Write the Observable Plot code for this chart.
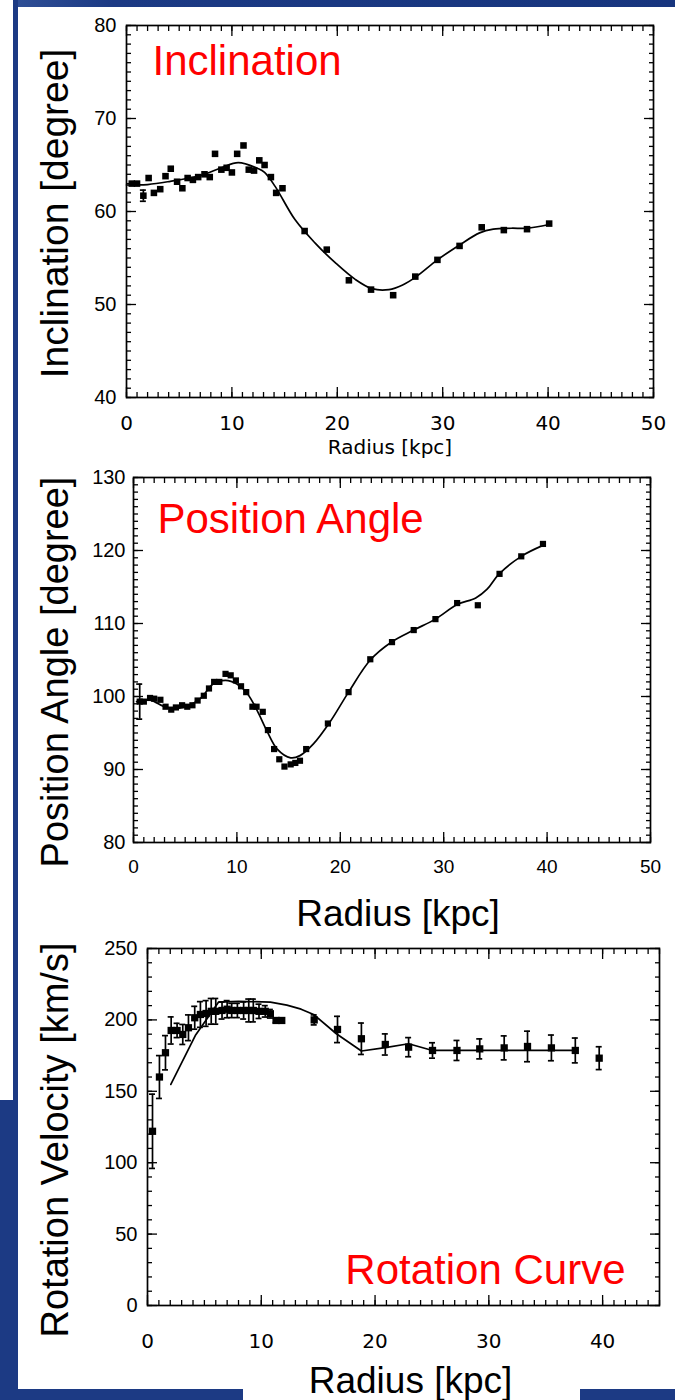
<!DOCTYPE html>
<html>
<head>
<meta charset="utf-8">
<script src="https://cdn.jsdelivr.net/npm/d3@7"></script>
<script src="https://cdn.jsdelivr.net/npm/@observablehq/plot@0.6"></script>
<style>
html, body { margin: 0; padding: 0; background: #fff; }
#page { position: relative; width: 675px; height: 1400px; overflow: hidden; background: #fff; font-family: "Liberation Sans", Arial, sans-serif; }
.panel { position: absolute; left: 0; }
.deco { position: absolute; background: #1c3a84; z-index: 5; }
</style>
</head>
<body>
<div id="page">
  <div id="p1" class="panel" style="top:0px"></div>
  <div id="p2" class="panel" style="top:460px"></div>
  <div id="p3" class="panel" style="top:940px"></div>
  <div class="deco" style="left:13px;top:0;width:662px;height:7px;background:linear-gradient(90deg,#2f4f96,#1c3a84 15%,#17357e)"></div>
  <div class="deco" style="left:13px;top:0;width:5px;height:1100px"></div>
  <div class="deco" style="left:0;top:1100px;width:18px;height:300px"></div>
  <div class="deco" style="left:0;top:1389px;width:243px;height:11px"></div>
  <div class="deco" style="left:580px;top:1389px;width:95px;height:11px"></div>
</div>
<script>
// ---------- Inclination ----------
const incR = [0.5, 1.0, 1.6, 2.1, 2.6, 3.2, 3.7, 4.2, 4.8, 5.3, 5.8, 6.3, 6.8, 7.4, 7.9, 8.4, 9.0, 9.5, 10.0, 10.5, 11.1, 11.6, 12.1, 12.6, 13.1, 13.7, 14.2, 14.8, 16.9, 19.0, 21.1, 23.2, 25.3, 27.4, 29.5, 31.6, 33.7, 35.8, 38.0, 40.1];
const incV = [63.0, 63.0, 61.7, 63.6, 62.0, 62.4, 63.8, 64.6, 63.2, 62.5, 63.6, 63.4, 63.7, 64.0, 63.7, 66.2, 64.5, 64.7, 64.2, 66.2, 67.1, 64.5, 64.4, 65.5, 65.0, 63.7, 62.0, 62.5, 57.9, 55.9, 52.6, 51.6, 51.0, 53.0, 54.8, 56.3, 58.3, 58.0, 58.1, 58.7];
const incE = [0, 0, 0.6, 0, 0, 0, 0, 0, 0, 0, 0, 0, 0, 0, 0, 0, 0, 0, 0, 0, 0, 0, 0, 0, 0, 0, 0, 0, 0, 0, 0, 0, 0, 0, 0, 0, 0, 0, 0, 0];
const incFitR = [0, 1.0, 2.0, 3.9, 7.1, 9.0, 10.6, 12.5, 13.1, 14.1, 16.0, 17.9, 19.8, 21.7, 23.3, 24.9, 26.2, 27.5, 29.5, 31.6, 33.5, 34.8, 36.5, 38.0, 40.1];
const incFitV = [62.85, 62.85, 62.9, 63.2, 63.9, 64.7, 65.25, 64.6, 64.2, 62.7, 59.1, 56.6, 54.5, 52.7, 51.7, 51.6, 52.1, 53.0, 54.8, 56.4, 57.7, 58.1, 58.2, 58.2, 58.6];
const incXTicks = [0, 10, 20, 30, 40, 50];
const incYTicks = [40, 50, 60, 70, 80];

// ---------- Position angle ----------
const paR = [0.6, 1.0, 1.6, 2.0, 2.6, 3.1, 3.65, 4.1, 4.7, 5.2, 5.7, 6.2, 6.8, 7.3, 7.8, 8.3, 8.9, 9.4, 9.9, 10.4, 10.9, 11.5, 11.9, 12.5, 13.0, 13.6, 14.1, 14.6, 15.2, 15.65, 16.1, 16.7, 18.8, 20.8, 22.9, 25.0, 27.1, 29.2, 31.3, 33.3, 35.4, 37.5, 39.6];
const paV = [99.3, 99.3, 99.8, 99.7, 99.55, 98.6, 98.2, 98.5, 98.8, 98.6, 98.8, 99.45, 100.1, 101.1, 102.0, 102.0, 103.1, 102.9, 102.2, 101.4, 100.6, 98.6, 98.6, 97.9, 95.4, 92.8, 91.4, 90.4, 90.7, 90.9, 91.2, 92.8, 96.3, 100.6, 105.1, 107.45, 109.1, 110.6, 112.8, 112.5, 116.8, 119.2, 120.9];
const paE = [2.4, 0, 0, 0, 0, 0, 0, 0, 0, 0, 0, 0, 0, 0, 0, 0, 0, 0, 0, 0, 0, 0, 0, 0, 0, 0, 0, 0, 0, 0, 0, 0, 0, 0, 0, 0, 0, 0, 0, 0, 0, 0, 0];
const paFitR = [0.3, 1.6, 3.2, 4.8, 6.45, 7.7, 8.9, 10.0, 11.0, 11.95, 12.9, 13.9, 15.2, 16.1, 17.4, 19.0, 20.8, 22.9, 25.0, 27.1, 29.2, 31.3, 33.1, 34.2, 35.3, 37.5, 39.6];
const paFitV = [99.3, 99.5, 98.5, 98.5, 99.7, 101.7, 102.2, 101.7, 100.4, 98.1, 95.3, 92.8, 91.6, 91.9, 93.5, 96.5, 100.6, 105.0, 107.5, 109.1, 110.6, 112.6, 113.5, 114.7, 116.7, 119.2, 120.7];
const paXTicks = [0, 10, 20, 30, 40, 50];
const paYTicks = [80, 90, 100, 110, 120, 130];

// ---------- Rotation curve ----------
const rcR = [0.44, 1.05, 1.58, 2.08, 2.6, 3.1, 3.6, 4.15, 4.65, 5.15, 5.6, 6.0, 6.55, 7.0, 7.4, 7.9, 8.45, 8.9, 9.3, 9.8, 10.35, 10.8, 11.3, 11.8, 14.65, 16.7, 18.8, 20.9, 22.95, 25.05, 27.2, 29.2, 31.35, 33.4, 35.5, 37.6, 39.7];
const rcV = [122, 160, 177, 192.6, 192.6, 189.8, 194.5, 201.5, 203.8, 204.5, 206, 206, 206.6, 207.5, 206.6, 206.6, 206.6, 206.6, 206.6, 206, 206, 204.3, 199.6, 199.6, 200, 193.3, 186.8, 182.8, 180.9, 178.6, 178.6, 179.7, 180.4, 181.4, 180.4, 178.6, 173.2];
const rcE = [26, 15, 12, 9.5, 5, 7, 9, 8, 9, 9, 9, 9, 6, 6, 5, 5, 6, 8, 8, 5, 4, 3, 1.5, 1.5, 3.5, 9.2, 11, 7.4, 6.7, 5.4, 7, 7, 8.4, 10.7, 9, 8.7, 8];
const rcFitR = [2.05, 4.2, 6.25, 8.0, 10.8, 12.25, 13.5, 14.6, 16.6, 18.8, 20.9, 22.95, 25.05, 27.2, 37.6];
const rcFitV = [154.8, 189, 212.5, 213, 212.5, 210.3, 207.5, 203.8, 190.3, 178.2, 180.6, 183.3, 178.6, 178.6, 178.6];
const rcXTicks = [0, 10, 20, 30, 40];
const rcYTicks = [0, 50, 100, 150, 200, 250];

const rows = (R, V, E) => R.map((r, i) => ({r, v: V[i], e: E ? E[i] : 0}));
const range = (a, b, s) => d3.range(a, b + s / 2, s);
const noText = () => "";

function box(o) {
  const sw = 1.3;
  return [
    Plot.axisX({ticks: o.xMinor, anchor: "bottom", tickSize: -5, tickFormat: noText, label: null, strokeWidth: sw}),
    Plot.axisX({ticks: o.xMinor, anchor: "top", tickSize: -5, tickFormat: noText, label: null, strokeWidth: sw}),
    Plot.axisX({ticks: o.xTicks, anchor: "top", tickSize: -10, tickFormat: noText, label: null, strokeWidth: sw}),
    Plot.axisX({ticks: o.xTicks, anchor: "bottom", tickSize: -10, tickPadding: o.xPad, tickFormat: d => String(d), label: null, strokeWidth: sw, fontSize: o.xFontSize, fontFamily: o.xFont, fill: "#000"}),
    Plot.axisY({ticks: o.yMinor, anchor: "left", tickSize: -5, tickFormat: noText, label: null, strokeWidth: sw}),
    Plot.axisY({ticks: o.yMinor, anchor: "right", tickSize: -5, tickFormat: noText, label: null, strokeWidth: sw}),
    Plot.axisY({ticks: o.yTicks, anchor: "right", tickSize: -10, tickFormat: noText, label: null, strokeWidth: sw}),
    Plot.axisY({ticks: o.yTicks, anchor: "left", tickSize: -10, tickPadding: o.yPad, tickFormat: d => String(d), label: null, strokeWidth: sw, fontSize: 20, fontFamily: "Liberation Sans", fill: "#000"}),
    Plot.frame({stroke: "#000", strokeWidth: 1.7})
  ];
}

function errorMarks(data, capHalf) {
  const d = data.filter(p => p.e > 0).map(p => ({r: p.r, lo: p.v - p.e, hi: p.v + p.e}));
  return [
    Plot.ruleX(d, {x: "r", y1: "lo", y2: "hi", stroke: "#000", strokeWidth: 1.7}),
    Plot.ruleY(d, {y: "lo", x1: "r", x2: "r", insetLeft: -capHalf, insetRight: -capHalf, stroke: "#000", strokeWidth: 1.7}),
    Plot.ruleY(d, {y: "hi", x1: "r", x2: "r", insetLeft: -capHalf, insetRight: -capHalf, stroke: "#000", strokeWidth: 1.7})
  ];
}

const HERSHEY = "DejaVu Sans";
const ARIAL = "Liberation Sans";
const svgStyle = {background: "transparent", overflow: "visible"};

// Panel 1
const incData = rows(incR, incV, incE);
const p1 = Plot.plot({
  width: 675, height: 460,
  marginTop: 25, marginBottom: 63, marginLeft: 126, marginRight: 22,
  style: svgStyle,
  x: {domain: [0, 50], label: null},
  y: {domain: [40, 80], label: null},
  marks: [
    ...box({xTicks: incXTicks, xMinor: range(0, 50, 1), yTicks: incYTicks, yMinor: range(40, 80, 1), xPad: 28, yPad: 20, xFontSize: 20, xFont: HERSHEY}),
    Plot.line(rows(incFitR, incFitV), {x: "r", y: "v", curve: "catmull-rom", stroke: "#000", strokeWidth: 1.7}),
    ...errorMarks(incData, 3),
    Plot.dot(incData, {x: "r", y: "v", symbol: "square", r: 3.7, fill: "#000", stroke: "none"}),
    Plot.text(["Inclination [degree]"], {text: d => d, frameAnchor: "left", textAnchor: "middle", lineAnchor: "middle", rotate: -90, dx: -71, dy: 2, fontSize: 39, fontFamily: ARIAL, fill: "#000"}),
    Plot.text(["Inclination"], {text: d => d, frameAnchor: "top-left", textAnchor: "start", lineAnchor: "top", dx: 26, dy: 20, fontSize: 42, fontFamily: ARIAL, fill: "#ff0000"}),
    Plot.text(["Radius [kpc]"], {text: d => d, frameAnchor: "bottom", lineAnchor: "middle", dy: 50, fontSize: 20, fontFamily: HERSHEY, fill: "#000"})
  ]
});
document.getElementById("p1").appendChild(p1);

// Panel 2
const paData = rows(paR, paV, paE);
const p2 = Plot.plot({
  width: 675, height: 480,
  marginTop: 17, marginBottom: 98, marginLeft: 133, marginRight: 25,
  style: svgStyle,
  x: {domain: [0, 50], label: null},
  y: {domain: [80, 130], label: null},
  marks: [
    ...box({xTicks: paXTicks, xMinor: range(0, 50, 1), yTicks: paYTicks, yMinor: range(80, 130, 1), xPad: 27, yPad: 18, xFontSize: 19, xFont: ARIAL}),
    Plot.line(rows(paFitR, paFitV), {x: "r", y: "v", curve: "catmull-rom", stroke: "#000", strokeWidth: 1.7}),
    ...errorMarks(paData, 3),
    Plot.dot(paData, {x: "r", y: "v", symbol: "square", r: 3.5, fill: "#000", stroke: "none"}),
    Plot.text(["Position Angle [degree]"], {text: d => d, frameAnchor: "left", textAnchor: "middle", lineAnchor: "middle", rotate: -90, dx: -78, dy: 12, fontSize: 38, fontFamily: ARIAL, fill: "#000"}),
    Plot.text(["Position Angle"], {text: d => d, frameAnchor: "top-left", textAnchor: "start", lineAnchor: "top", dx: 24, dy: 26, fontSize: 42, fontFamily: ARIAL, fill: "#ff0000"}),
    Plot.text(["Radius [kpc]"], {text: d => d, frameAnchor: "bottom", lineAnchor: "bottom", dx: 6, dy: 83, fontSize: 37, fontFamily: ARIAL, fill: "#000"})
  ]
});
document.getElementById("p2").appendChild(p2);

// Panel 3
const rcData = rows(rcR, rcV, rcE);
const p3 = Plot.plot({
  width: 675, height: 460,
  marginTop: 8, marginBottom: 95, marginLeft: 147, marginRight: 16,
  style: svgStyle,
  x: {domain: [0, 45], label: null},
  y: {domain: [0, 250], label: null},
  marks: [
    ...box({xTicks: rcXTicks, xMinor: range(0, 45, 1), yTicks: rcYTicks, yMinor: range(0, 250, 10), xPad: 38, yPad: 20, xFontSize: 20, xFont: HERSHEY}),
    Plot.line(rows(rcFitR, rcFitV), {x: "r", y: "v", curve: "linear", stroke: "#000", strokeWidth: 1.7}),
    ...errorMarks(rcData, 3),
    Plot.dot(rcData, {x: "r", y: "v", symbol: "square", r: 4.1, fill: "#000", stroke: "none"}),
    Plot.text(["Rotation Velocity [km/s]"], {text: d => d, frameAnchor: "left", textAnchor: "middle", lineAnchor: "middle", rotate: -90, dx: -92, dy: 13, fontSize: 38, fontFamily: ARIAL, fill: "#000"}),
    Plot.text(["Rotation Curve"], {text: d => d, frameAnchor: "bottom-right", textAnchor: "end", lineAnchor: "bottom", dx: -34, dy: -22, fontSize: 42, fontFamily: ARIAL, fill: "#ff0000"}),
    Plot.text(["Radius [kpc]"], {text: d => d, frameAnchor: "bottom", lineAnchor: "bottom", dx: 7, dy: 87, fontSize: 37, fontFamily: ARIAL, fill: "#000"})
  ]
});
document.getElementById("p3").appendChild(p3);
</script>
</body>
</html>
